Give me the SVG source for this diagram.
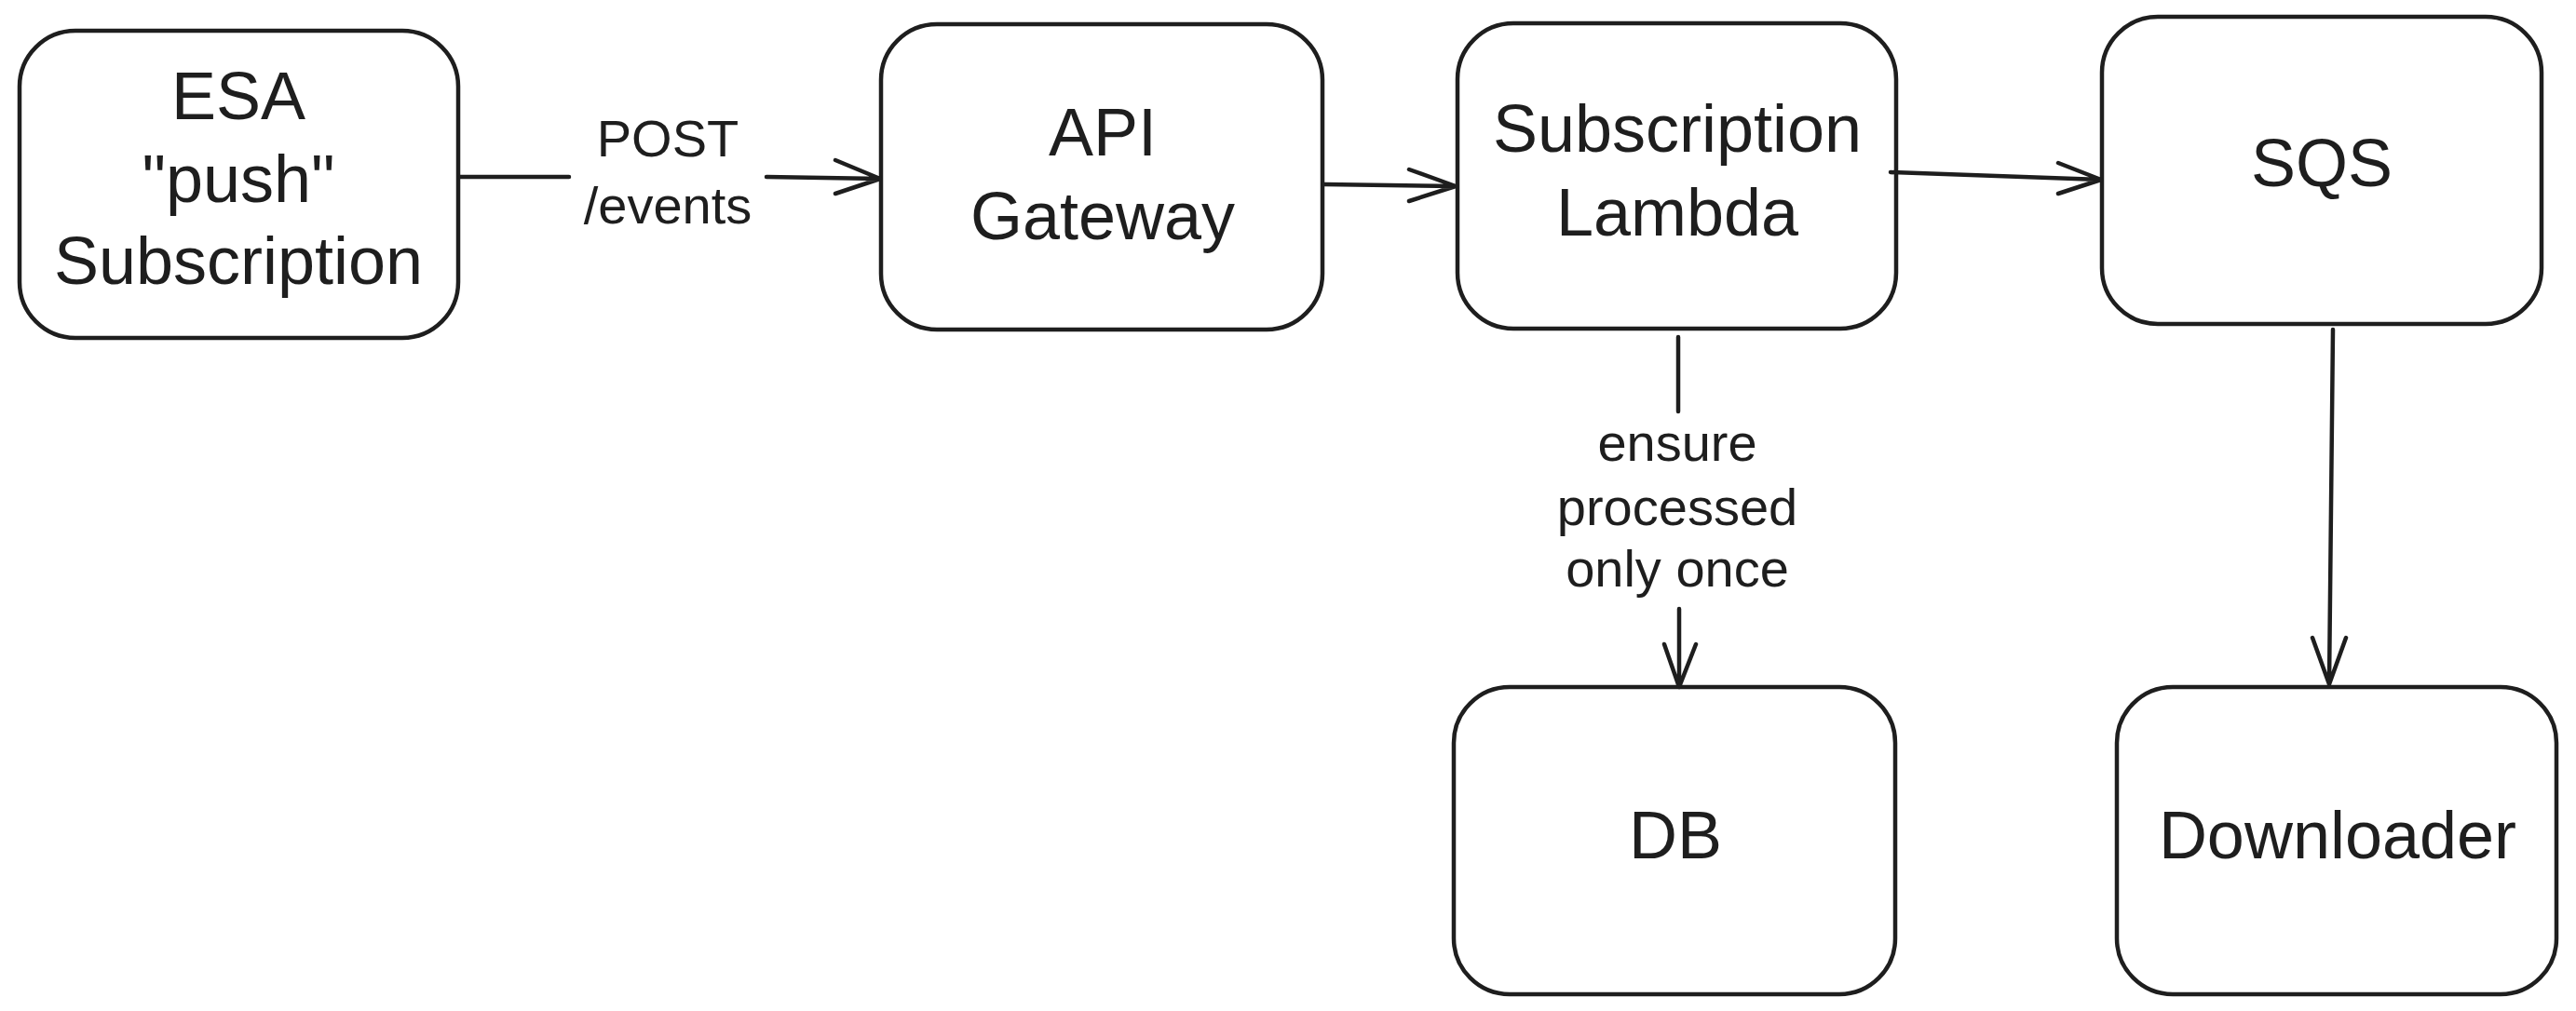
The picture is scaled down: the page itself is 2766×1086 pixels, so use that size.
<svg xmlns="http://www.w3.org/2000/svg" width="2766" height="1086" viewBox="0 0 2766 1086">
<style>
.box{fill:#ffffff;stroke:#1e1e1e;stroke-width:4.5}
.t{font-family:"Liberation Sans",Arial,sans-serif;font-size:72px;fill:#1e1e1e;text-anchor:middle}
.l{font-family:"Liberation Sans",Arial,sans-serif;font-size:56px;fill:#1e1e1e;text-anchor:middle}
.c{fill:none;stroke:#1e1e1e;stroke-width:4.5;stroke-linecap:round;stroke-linejoin:round}
</style>
<rect width="2766" height="1086" fill="#ffffff"/>
<g id="esa">
<rect class="box" x="21" y="33" width="471" height="330" rx="60"/>
<text class="t" x="256" y="128">ESA</text>
<text class="t" x="256" y="217">"push"</text>
<text class="t" x="256" y="305">Subscription</text>
</g>
<g id="api">
<rect class="box" x="946" y="26" width="474" height="328" rx="60"/>
<text class="t" x="1184" y="167">API</text>
<text class="t" x="1184" y="257">Gateway</text>
</g>
<g id="lambda">
<rect class="box" x="1565" y="25" width="471" height="328" rx="60"/>
<text class="t" x="1801" y="163">Subscription</text>
<text class="t" x="1801" y="253">Lambda</text>
</g>
<g id="sqs">
<rect class="box" x="2257" y="18" width="472" height="330" rx="60"/>
<text class="t" x="2493" y="200">SQS</text>
</g>
<g id="db">
<rect class="box" x="1561" y="738" width="474" height="330" rx="60"/>
<text class="t" x="1799" y="922">DB</text>
</g>
<g id="downloader">
<rect class="box" x="2273" y="738" width="472" height="330" rx="60"/>
<text class="t" x="2510" y="922">Downloader</text>
</g>
<g id="connectors">
<path class="c" d="M494 190 L611 190 M823 190 L945 192 M897 172 L945 192 L897 208"/>
<text class="l" x="717" y="168">POST</text>
<text class="l" x="717" y="240">/events</text>
<path class="c" d="M1422 198 L1563 200 M1513 182 L1563 200 L1513 216"/>
<path class="c" d="M2030 185 L2256 193 M2210 175 L2256 193 L2210 208"/>
<path class="c" d="M1802 362 L1802 442 M1803 654 L1803 738 M1787 692 L1803 738 L1821 692"/>
<text class="l" x="1801" y="495">ensure</text>
<text class="l" x="1801" y="564">processed</text>
<text class="l" x="1801" y="630">only once</text>
<path class="c" d="M2505 354 L2501 735 M2483 685 L2501 735 L2519 685"/>
</g>
</svg>
